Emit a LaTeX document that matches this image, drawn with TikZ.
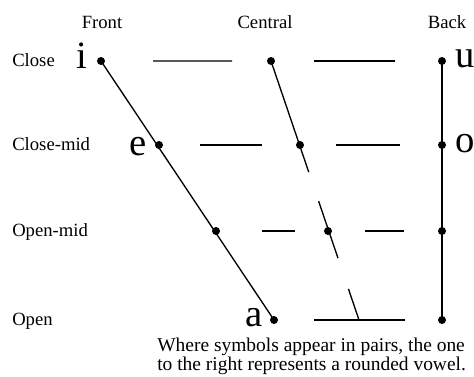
\documentclass[tikz,border=0pt]{standalone}
\usepackage{fontspec}
\setmainfont{Liberation Serif}
\usetikzlibrary{calc, positioning}

\begin{document}
\begin{tikzpicture}[x=0.75pt, y=-0.75pt,
  vdot/.style={circle, fill=black, inner sep=0pt, minimum size=6pt},
  vowel/.style={font=\fontsize{29}{30}\selectfont, inner sep=0pt},
  lbl/.style={font=\fontsize{14}{16}\selectfont, inner sep=0pt},
  edge/.style={line width=1pt}]
  \useasboundingbox (0,0) rectangle (474,376);

  % column and row headings
  \node[lbl, anchor=base] (front) at (102,28) {Front};
  \node[lbl, anchor=base] (central) at (265,28) {Central};
  \node[lbl, anchor=base] (back) at (447,28) {Back};
  \node[lbl, anchor=base west] (close) at (12,66) {Close};
  \node[lbl, anchor=base west] (closemid) at (12,150) {Close-mid};
  \node[lbl, anchor=base west] (openmid) at (12,236) {Open-mid};
  \node[lbl, anchor=base west] (open) at (12,325) {Open};

  % vowel points
  \node[vdot] (fc) at (101,61) {};
  \node[vdot] (cc) at (271,61) {};
  \node[vdot] (bc) at (442,61) {};
  \node[vdot] (fcm) at (159,145) {};
  \node[vdot] (ccm) at (300,145) {};
  \node[vdot] (bcm) at (442,145) {};
  \node[vdot] (fom) at (216,231) {};
  \node[vdot] (com) at (328,231) {};
  \node[vdot] (bom) at (442,231) {};
  \node[vdot] (fo) at (274,320) {};
  \node[vdot] (bo) at (442,320) {};
  \coordinate (co) at (359,320);

  % vowel symbols
  \node[vowel, anchor=base east] (vi) at (88,68) {i};
  \node[vowel, anchor=base east] (ve) at (147,155) {e};
  \node[vowel, anchor=base east] (va) at (263,326) {a};
  \node[vowel, anchor=base west] (vu) at (455,67) {u};
  \node[vowel, anchor=base west] (vo) at (455,152) {o};

  % outline of the chart
  \draw[edge] (fc.center) -- (fo.center);
  \draw[edge] (bc.center) -- (bo.center);
  \draw[edge] (cc.center) -- ($(cc)!0.429!(co)$);
  \draw[edge] ($(cc)!0.541!(co)$) -- ($(cc)!0.761!(co)$);
  \draw[edge] ($(cc)!0.880!(co)$) -- (co);

  % horizontal pieces
  \draw[edge] ($(fc)!0.306!(cc)$) -- ($(fc)!0.771!(cc)$);
  \draw[edge] ($(cc)!0.251!(bc)$) -- ($(cc)!0.725!(bc)$);
  \draw[edge] ($(fcm)!0.291!(ccm)$) -- ($(fcm)!0.730!(ccm)$);
  \draw[edge] ($(ccm)!0.254!(bcm)$) -- ($(ccm)!0.704!(bcm)$);
  \draw[edge] ($(fom)!0.411!(com)$) -- ($(fom)!0.705!(com)$);
  \draw[edge] ($(com)!0.325!(bom)$) -- ($(com)!0.667!(bom)$);
  \draw[edge] ($(fo)!0.238!(bo)$) -- ($(fo)!0.780!(bo)$);

  % caption
  \node[font=\fontsize{14.6}{11.5}\selectfont, align=left, inner sep=0pt, anchor=north west] (note) at (157,338)
    {Where symbols appear in pairs, the one\\to the right represents a rounded vowel.};
\end{tikzpicture}
\end{document}
